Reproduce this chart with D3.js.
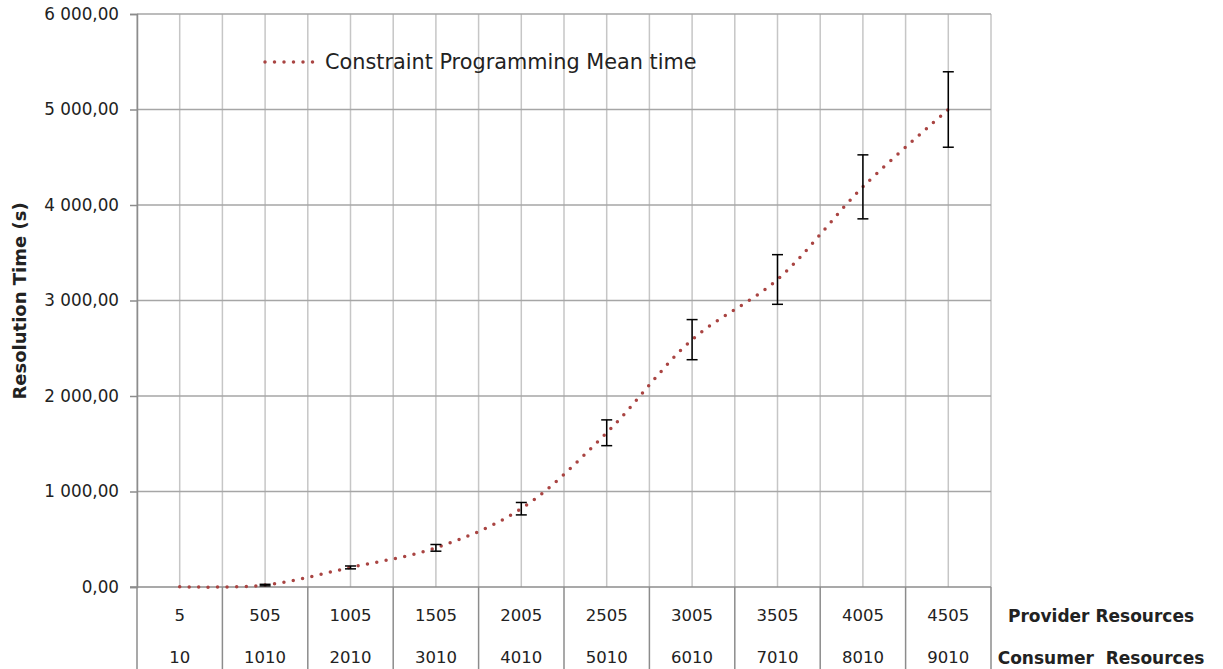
<!DOCTYPE html>
<html>
<head>
<meta charset="utf-8">
<script src="https://cdn.jsdelivr.net/npm/d3@7"></script>
<style>
body { margin: 0; background: #fff; }
text { font-family: "DejaVu Sans", sans-serif; fill: #222; }
</style>
</head>
<body>
<div id="chart-area"></div>
<script>
var providers = ["5", "505", "1005", "1505", "2005", "2505", "3005", "3505", "4005", "4505"];
var consumers = ["10", "1010", "2010", "3010", "4010", "5010", "6010", "7010", "8010", "9010"];
var meanTime = [2, 20, 205, 410, 820, 1615, 2590, 3220, 4190, 5000];
var errTime = [2, 8, 15, 35, 65, 135, 210, 260, 335, 395];
var yTicks = [0, 1000, 2000, 3000, 4000, 5000, 6000];

var width = 1223, height = 669;
var pLeft = 137, pRight = 991, pTop = 14, pBottom = 587;

var data = providers.map((p, i) => {
	return {p: p, c: consumers[i], v: meanTime[i], e: errTime[i]};
});

var svg = d3.select("#chart-area").append("svg")
	.attr("width", width)
	.attr("height", height);

var x = d3.scaleBand().domain(providers).range([pLeft, pRight]).padding(0);
var y = d3.scaleLinear().domain([0, 6000]).range([pBottom, pTop]);
var bw = x.bandwidth();
var cx = (d) => { return x(d) + bw / 2; };

var loc = d3.formatLocale({decimal: ",", thousands: " ", grouping: [3], currency: ["", ""]});
var fmt = loc.format(",.2f");

// vertical gridlines (centers and boundaries)
var vLines = [];
providers.forEach((p) => { vLines.push(x(p)); vLines.push(cx(p)); });
vLines.push(pRight);
svg.append("g").selectAll("line").data(vLines).enter().append("line")
	.attr("x1", (d) => d).attr("x2", (d) => d)
	.attr("y1", pTop).attr("y2", pBottom)
	.attr("stroke", "#c6c6c6").attr("stroke-width", 1.5);

// horizontal gridlines
svg.append("g").selectAll("line").data(yTicks.slice(1)).enter().append("line")
	.attr("x1", pLeft).attr("x2", pRight)
	.attr("y1", (d) => y(d)).attr("y2", (d) => y(d))
	.attr("stroke", "#a6a6a6").attr("stroke-width", 1.5);

// y axis
var leftAxis = d3.axisLeft(y).tickValues(yTicks).tickFormat(fmt).tickSize(7).tickPadding(11);
var yAxisGroup = svg.append("g").attr("transform", "translate(" + pLeft + ",0)").call(leftAxis);
yAxisGroup.select(".domain").attr("stroke", "#8c8c8c").attr("stroke-width", 1.5);
yAxisGroup.selectAll(".tick line").attr("stroke", "#8c8c8c").attr("stroke-width", 1.5);
yAxisGroup.selectAll(".tick text").attr("font-size", "16.8px").attr("font-family", "DejaVu Sans").style("fill", "#222");

// x axis line + category table
svg.append("line").attr("x1", pLeft - 7).attr("x2", pRight)
	.attr("y1", pBottom).attr("y2", pBottom)
	.attr("stroke", "#8c8c8c").attr("stroke-width", 1.5);
var bounds = providers.map((p) => x(p)).concat([pRight]);
svg.append("g").selectAll("line").data(bounds).enter().append("line")
	.attr("x1", (d) => d).attr("x2", (d) => d)
	.attr("y1", pBottom).attr("y2", height)
	.attr("stroke", "#8c8c8c").attr("stroke-width", 1.5);

svg.append("g").selectAll("text").data(data).enter().append("text")
	.attr("x", (d) => cx(d.p)).attr("y", 621)
	.attr("text-anchor", "middle").attr("font-size", "16.5px")
	.text((d) => d.p);
svg.append("g").selectAll("text").data(data).enter().append("text")
	.attr("x", (d) => cx(d.p)).attr("y", 663)
	.attr("text-anchor", "middle").attr("font-size", "16.5px")
	.text((d) => d.c);

svg.append("text").attr("x", 1101).attr("y", 622).attr("text-anchor", "middle")
	.attr("font-size", "17px").attr("font-weight", "bold").text("Provider Resources");
svg.append("text").attr("x", 1101).attr("y", 664).attr("text-anchor", "middle")
	.attr("font-size", "17px").attr("font-weight", "bold")
	.style("white-space", "pre").text("Consumer  Resources");

// y axis label
svg.append("text")
	.attr("transform", "translate(26,301) rotate(-90)")
	.attr("text-anchor", "middle").attr("font-size", "18px").attr("font-weight", "bold")
	.text("Resolution Time (s)");

// line
var line = d3.line().x((d) => cx(d.p)).y((d) => y(d.v)).curve(d3.curveCatmullRom.alpha(0.5));
svg.append("path").datum(data)
	.attr("d", line)
	.attr("fill", "none")
	.attr("stroke", "#a94442")
	.attr("stroke-width", 3.5)
	.attr("stroke-linecap", "round")
	.attr("stroke-dasharray", "0,9.5");

// error bars
var eb = svg.append("g").selectAll("g").data(data.slice(1)).enter().append("g");
eb.append("line").attr("x1", (d) => cx(d.p)).attr("x2", (d) => cx(d.p))
	.attr("y1", (d) => y(d.v + d.e)).attr("y2", (d) => y(d.v - d.e))
	.attr("stroke", "#000").attr("stroke-width", 1.5);
eb.append("line").attr("x1", (d) => cx(d.p) - 5.5).attr("x2", (d) => cx(d.p) + 5.5)
	.attr("y1", (d) => y(d.v + d.e)).attr("y2", (d) => y(d.v + d.e))
	.attr("stroke", "#000").attr("stroke-width", 1.5);
eb.append("line").attr("x1", (d) => cx(d.p) - 5.5).attr("x2", (d) => cx(d.p) + 5.5)
	.attr("y1", (d) => y(d.v - d.e)).attr("y2", (d) => y(d.v - d.e))
	.attr("stroke", "#000").attr("stroke-width", 1.5);

// legend
svg.append("line").attr("x1", 265).attr("x2", 314).attr("y1", 62).attr("y2", 62)
	.attr("stroke", "#a94442").attr("stroke-width", 3.5)
	.attr("stroke-linecap", "round").attr("stroke-dasharray", "0,9.5");
svg.append("text").attr("x", 325).attr("y", 69).attr("font-size", "20.8px")
	.text("Constraint Programming Mean time");
</script>
</body>
</html>
